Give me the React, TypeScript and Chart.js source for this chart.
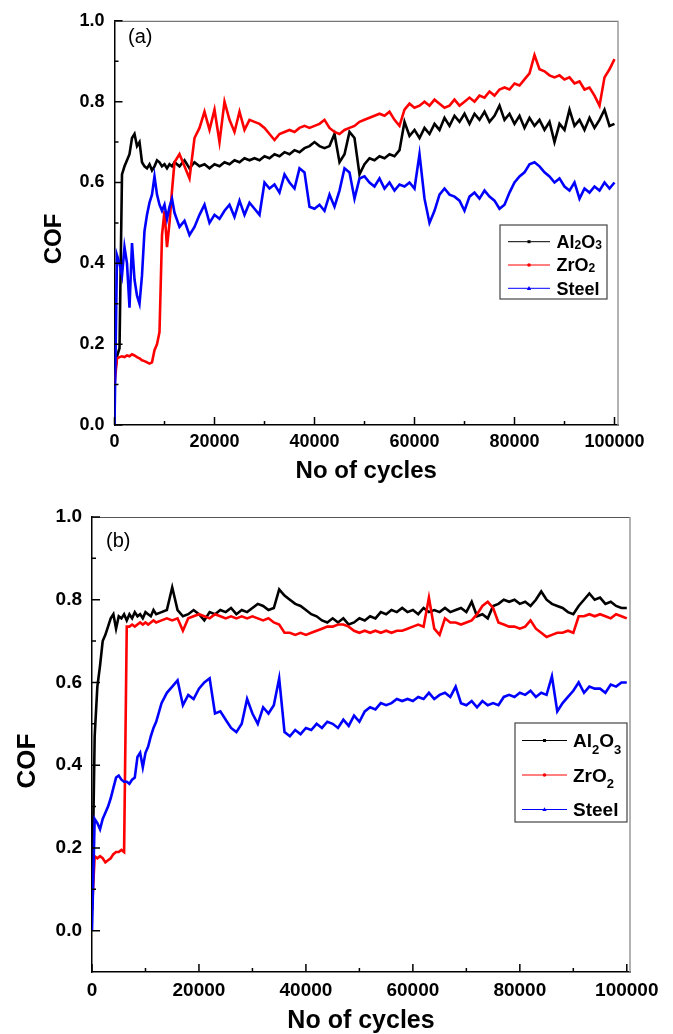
import React, { useEffect, useRef } from "react";
import { Chart, registerables } from "chart.js";

Chart.register(...registerables);

// ---------------- data ----------------
const CYCLES = [
  0, 500, 1000, 1500, 2000, 2500, 3000, 3500, 4000, 4500, 5000, 5500, 6000, 6500, 7000, 7500, 8000, 8500, 9000, 9500, 10000, 10500, 11000, 11500, 12000,
  13000, 14000, 15000, 16000, 17000, 18000, 19000, 20000, 21000, 22000,
  23000, 24000, 25000, 26000, 27000, 28000, 29000, 30000, 31000, 32000,
  33000, 34000, 35000, 36000, 37000, 38000, 39000, 40000, 41000, 42000,
  43000, 44000, 45000, 46000, 47000, 48000, 49000, 50000, 51000, 52000,
  53000, 54000, 55000, 56000, 57000, 58000, 59000, 60000, 61000, 62000,
  63000, 64000, 65000, 66000, 67000, 68000, 69000, 70000, 71000, 72000,
  73000, 74000, 75000, 76000, 77000, 78000, 79000, 80000, 81000, 82000,
  83000, 84000, 85000, 86000, 87000, 88000, 89000, 90000, 91000, 92000,
  93000, 94000, 95000, 96000, 97000, 98000, 99000, 100000,
];

// (a)
const A_AL2O3 = [
  0.12, 0.17, 0.19, 0.62, 0.64, 0.655, 0.67, 0.71, 0.72, 0.69, 0.70, 0.65, 0.64, 0.635, 0.645, 0.63, 0.64, 0.655, 0.65, 0.64, 0.645, 0.635, 0.645, 0.64, 0.65,
  0.64, 0.655, 0.635, 0.65, 0.64, 0.645, 0.635, 0.645, 0.64, 0.65,
  0.645, 0.655, 0.65, 0.66, 0.655, 0.66, 0.655, 0.665, 0.66, 0.67,
  0.665, 0.675, 0.67, 0.68, 0.675, 0.685, 0.69, 0.70, 0.69, 0.685,
  0.69, 0.72, 0.65, 0.67, 0.725, 0.71, 0.62, 0.645, 0.66, 0.655,
  0.665, 0.66, 0.67, 0.665, 0.68, 0.75, 0.715, 0.73, 0.71, 0.735,
  0.72, 0.745, 0.73, 0.76, 0.74, 0.765, 0.75, 0.77, 0.745, 0.77,
  0.755, 0.775, 0.75, 0.765, 0.79, 0.755, 0.77, 0.745, 0.765, 0.735,
  0.76, 0.74, 0.755, 0.73, 0.75, 0.70, 0.745, 0.73, 0.78, 0.74,
  0.755, 0.73, 0.76, 0.735, 0.755, 0.78, 0.74, 0.745,
];
const A_ZRO2 = [
  0.10, 0.165, 0.168, 0.17, 0.168, 0.172, 0.17, 0.175, 0.172, 0.168, 0.165, 0.16, 0.158, 0.155, 0.152, 0.155, 0.185, 0.20, 0.23, 0.47, 0.53, 0.44, 0.50, 0.58, 0.65,
  0.67, 0.64, 0.61, 0.71, 0.735, 0.775, 0.73, 0.78, 0.70, 0.80,
  0.755, 0.725, 0.775, 0.73, 0.755, 0.75, 0.745, 0.735, 0.72, 0.705,
  0.72, 0.725, 0.73, 0.725, 0.735, 0.74, 0.735, 0.74, 0.745, 0.755,
  0.735, 0.725, 0.72, 0.73, 0.735, 0.74, 0.75, 0.755, 0.76, 0.765,
  0.77, 0.765, 0.775, 0.755, 0.74, 0.78, 0.795, 0.785, 0.79, 0.80,
  0.79, 0.805, 0.795, 0.785, 0.79, 0.805, 0.79, 0.80, 0.81, 0.80,
  0.815, 0.81, 0.825, 0.815, 0.83, 0.835, 0.83, 0.845, 0.84, 0.855,
  0.87, 0.915, 0.88, 0.875, 0.865, 0.86, 0.865, 0.855, 0.86, 0.845,
  0.85, 0.83, 0.835, 0.815, 0.79, 0.86, 0.88, 0.905,
];
const A_STEEL = [
  0.0, 0.42, 0.40, 0.37, 0.44, 0.40, 0.29, 0.45, 0.36, 0.32, 0.30, 0.37, 0.48, 0.52, 0.55, 0.57, 0.615, 0.57, 0.545, 0.53, 0.545, 0.51, 0.54, 0.56, 0.525,
  0.49, 0.505, 0.47, 0.49, 0.52, 0.545, 0.50, 0.52, 0.51, 0.53,
  0.545, 0.515, 0.555, 0.52, 0.55, 0.535, 0.52, 0.60, 0.585, 0.595,
  0.575, 0.62, 0.60, 0.585, 0.635, 0.625, 0.54, 0.535, 0.545, 0.53,
  0.57, 0.54, 0.58, 0.635, 0.625, 0.56, 0.61, 0.615, 0.60, 0.59,
  0.61, 0.585, 0.60, 0.58, 0.595, 0.59, 0.60, 0.585, 0.67, 0.56,
  0.50, 0.53, 0.57, 0.585, 0.57, 0.565, 0.555, 0.53, 0.565, 0.575,
  0.56, 0.58, 0.565, 0.555, 0.535, 0.545, 0.575, 0.60, 0.615, 0.625,
  0.645, 0.65, 0.64, 0.625, 0.615, 0.60, 0.61, 0.59, 0.58, 0.60,
  0.56, 0.585, 0.575, 0.59, 0.58, 0.60, 0.585, 0.60,
];

// (b)
const B_AL2O3 = [
  0.05, 0.47, 0.59, 0.64, 0.70, 0.715, 0.735, 0.755, 0.765, 0.73, 0.76, 0.755, 0.765, 0.75, 0.765, 0.755, 0.77, 0.76, 0.765, 0.755, 0.77, 0.765, 0.76, 0.775, 0.765,
  0.77, 0.775, 0.83, 0.775, 0.76, 0.765, 0.775, 0.765, 0.75, 0.77,
  0.765, 0.775, 0.77, 0.78, 0.765, 0.775, 0.77, 0.78, 0.79, 0.785,
  0.775, 0.78, 0.825, 0.81, 0.80, 0.79, 0.785, 0.775, 0.765, 0.76,
  0.75, 0.745, 0.755, 0.745, 0.755, 0.74, 0.745, 0.755, 0.75, 0.76,
  0.755, 0.77, 0.765, 0.775, 0.77, 0.78, 0.77, 0.775, 0.765, 0.78,
  0.77, 0.775, 0.77, 0.78, 0.77, 0.775, 0.78, 0.77, 0.795, 0.76,
  0.765, 0.755, 0.785, 0.79, 0.80, 0.795, 0.80, 0.79, 0.795, 0.785,
  0.80, 0.82, 0.80, 0.79, 0.785, 0.78, 0.77, 0.765, 0.785, 0.80,
  0.815, 0.80, 0.805, 0.79, 0.795, 0.785, 0.78, 0.78,
];
const B_ZRO2 = [
  0.05, 0.18, 0.175, 0.18, 0.175, 0.165, 0.17, 0.175, 0.185, 0.19, 0.19, 0.195, 0.19, 0.735, 0.735, 0.74, 0.735, 0.74, 0.745, 0.74, 0.745, 0.74, 0.745, 0.75, 0.745,
  0.75, 0.755, 0.75, 0.755, 0.725, 0.755, 0.76, 0.765, 0.76, 0.755,
  0.765, 0.76, 0.755, 0.76, 0.755, 0.76, 0.755, 0.76, 0.755, 0.75,
  0.755, 0.745, 0.74, 0.72, 0.72, 0.715, 0.72, 0.715, 0.72, 0.725,
  0.73, 0.735, 0.735, 0.74, 0.74, 0.735, 0.725, 0.72, 0.725, 0.72,
  0.725, 0.72, 0.725, 0.72, 0.725, 0.725, 0.73, 0.735, 0.74, 0.735,
  0.805, 0.73, 0.715, 0.755, 0.745, 0.745, 0.74, 0.745, 0.75, 0.765,
  0.785, 0.795, 0.78, 0.745, 0.74, 0.735, 0.735, 0.73, 0.735, 0.75,
  0.73, 0.72, 0.71, 0.715, 0.72, 0.72, 0.725, 0.72, 0.76, 0.76,
  0.765, 0.76, 0.765, 0.76, 0.755, 0.765, 0.76, 0.755,
];
const B_STEEL = [
  0.0, 0.27, 0.26, 0.245, 0.27, 0.285, 0.30, 0.32, 0.345, 0.37, 0.375, 0.365, 0.36, 0.36, 0.355, 0.365, 0.37, 0.42, 0.43, 0.395, 0.43, 0.445, 0.47, 0.49, 0.505,
  0.55, 0.575, 0.59, 0.605, 0.545, 0.57, 0.56, 0.585, 0.60, 0.61,
  0.525, 0.53, 0.51, 0.49, 0.48, 0.50, 0.56, 0.525, 0.50, 0.54,
  0.525, 0.545, 0.61, 0.48, 0.47, 0.485, 0.475, 0.49, 0.485, 0.50,
  0.49, 0.505, 0.50, 0.49, 0.51, 0.495, 0.52, 0.505, 0.53, 0.54,
  0.535, 0.55, 0.545, 0.55, 0.56, 0.555, 0.56, 0.555, 0.565, 0.56,
  0.575, 0.56, 0.57, 0.575, 0.565, 0.59, 0.55, 0.545, 0.555, 0.54,
  0.555, 0.545, 0.55, 0.545, 0.565, 0.57, 0.565, 0.575, 0.57, 0.58,
  0.565, 0.575, 0.57, 0.615, 0.53, 0.55, 0.565, 0.58, 0.60, 0.575,
  0.59, 0.585, 0.585, 0.575, 0.595, 0.59, 0.60, 0.60,
];

const SERIES_NAMES = ["Al₂O₃", "ZrO₂", "Steel"];
const SERIES_COLORS = ["#000000", "#ff0000", "#0000ff"];
const X_LABEL_TICKS = [0, 20000, 40000, 60000, 80000, 100000];
const X_MINOR_TICKS = [10000, 30000, 50000, 70000, 90000];
const Y_LABEL_TICKS = [0, 0.2, 0.4, 0.6, 0.8, 1.0];
const Y_MINOR_TICKS = [0.1, 0.3, 0.5, 0.7, 0.9];
const X_TITLE = "No of cycles";
const Y_TITLE = "COF";

const SUB_MAP: Record<string, string> = { "₂": "2", "₃": "3" };
const FAMILY = "'Liberation Sans', Arial, Helvetica, sans-serif";

type Panel = {
  tag: string;
  top: number;
  width: number;
  height: number;
  area: { left: number; right: number; top: number; bottom: number };
  xMax: number;
  yMin: number;
  yMax: number;
  tickSize: number;
  labelPadX: number;
  titleSize: number;
  titlePad: number;
  cofSize: number;
  cofX: number;
  cofY: number;
  tagX: number;
  tagY: number;
  tagSize: number;
  legend: {
    x: number; y: number; w: number; h: number;
    rows: number[]; lx1: number; lx2: number; tx: number;
    size: number; subSize: number; subShift: number;
  };
  series: number[][];
};

const PANELS: Panel[] = [
  {
    tag: "(a)",
    top: 0,
    width: 673,
    height: 490,
    area: { left: 114.5, right: 618, top: 18, bottom: 425 },
    xMax: 100700,
    yMin: 0,
    yMax: 1.0,
    tickSize: 18,
    labelPadX: 6,
    titleSize: 24,
    titlePad: 6.5,
    cofSize: 24,
    cofX: 54,
    cofY: 239,
    tagX: 128,
    tagY: 37.5,
    tagSize: 20,
    legend: { x: 500, y: 225, w: 107, h: 74, rows: [241.7, 265, 288.3], lx1: 508, lx2: 550, tx: 556.5, size: 18, subSize: 12, subShift: 1 },
    series: [A_AL2O3, A_ZRO2, A_STEEL],
  },
  {
    tag: "(b)",
    top: 490,
    width: 673,
    height: 544,
    area: { left: 92, right: 630, top: 27, bottom: 482 },
    xMax: 100600,
    yMin: -0.1,
    yMax: 1.0,
    tickSize: 19,
    labelPadX: 7,
    titleSize: 25,
    titlePad: 0.5,
    cofSize: 26,
    cofX: 28,
    cofY: 271,
    tagX: 106,
    tagY: 51,
    tagSize: 20,
    legend: { x: 515, y: 233, w: 112, h: 99, rows: [250.5, 285, 319.5], lx1: 522, lx2: 567, tx: 573, size: 19, subSize: 13, subShift: 6.5 },
    series: [B_AL2O3, B_ZRO2, B_STEEL],
  },
];

function drawRich(ctx: CanvasRenderingContext2D, label: string, x: number, base: number, font: string, subFont: string, subShift: number) {
  let cx = x;
  let buf = "";
  const flush = () => {
    if (!buf) return;
    ctx.font = font;
    ctx.fillText(buf, cx, base);
    cx += ctx.measureText(buf).width;
    buf = "";
  };
  for (const ch of label) {
    const s = SUB_MAP[ch];
    if (s) {
      flush();
      ctx.font = subFont;
      ctx.fillText(s, cx, base + subShift);
      cx += ctx.measureText(s).width;
    } else {
      buf += ch;
    }
  }
  flush();
}

function makeDecor(p: Panel) {
  return {
    id: "decor" + p.tag,
    afterDraw(chart: any) {
      const { ctx, chartArea: a } = chart;
      const xs = chart.scales.x;
      const ys = chart.scales.y;
      ctx.save();
      // top and right frame
      ctx.strokeStyle = "#555";
      ctx.lineWidth = 1;
      ctx.beginPath();
      ctx.moveTo(a.left, a.top + 0.5);
      ctx.lineTo(a.right, a.top + 0.5);
      ctx.stroke();
      ctx.strokeStyle = "#999";
      ctx.lineWidth = 1.5;
      ctx.beginPath();
      ctx.moveTo(a.right, a.top);
      ctx.lineTo(a.right, a.bottom);
      ctx.stroke();

      // inward ticks
      ctx.strokeStyle = "#000";
      ctx.lineWidth = 1.5;
      ctx.beginPath();
      const xt = (v: number, len: number) => {
        const px = xs.getPixelForValue(v);
        ctx.moveTo(px, a.bottom);
        ctx.lineTo(px, a.bottom - len);
      };
      const yt = (v: number, len: number) => {
        const py = ys.getPixelForValue(v);
        ctx.moveTo(a.left, py);
        ctx.lineTo(a.left + len, py);
      };
      X_LABEL_TICKS.forEach((v) => xt(v, 8));
      X_MINOR_TICKS.forEach((v) => xt(v, 4));
      Y_LABEL_TICKS.forEach((v) => yt(v, 8));
      Y_MINOR_TICKS.forEach((v) => yt(v, 4));
      ctx.stroke();

      // y title
      ctx.save();
      ctx.translate(p.cofX, p.cofY);
      ctx.rotate(-Math.PI / 2);
      ctx.fillStyle = "#000";
      ctx.font = `bold ${p.cofSize}px ${FAMILY}`;
      ctx.textAlign = "center";
      ctx.textBaseline = "middle";
      ctx.fillText(Y_TITLE, 0, 0);
      ctx.restore();

      // panel tag
      ctx.fillStyle = "#000";
      ctx.font = `${p.tagSize}px ${FAMILY}`;
      ctx.textAlign = "left";
      ctx.textBaseline = "middle";
      ctx.fillText(p.tag, p.tagX, p.tagY);

      // legend
      const L = p.legend;
      ctx.fillStyle = "#fff";
      ctx.fillRect(L.x, L.y, L.w, L.h);
      ctx.strokeStyle = "#444";
      ctx.lineWidth = 1.2;
      ctx.strokeRect(L.x, L.y, L.w, L.h);
      ctx.textBaseline = "alphabetic";
      chart.data.datasets.forEach((ds: any, i: number) => {
        const ry = L.rows[i];
        ctx.strokeStyle = ds.borderColor;
        ctx.lineWidth = 1;
        ctx.beginPath();
        ctx.moveTo(L.lx1, ry);
        ctx.lineTo(L.lx2, ry);
        ctx.stroke();
        const mx = (L.lx1 + L.lx2) / 2;
        ctx.fillStyle = ds.borderColor;
        ctx.beginPath();
        if (i === 0) {
          ctx.rect(mx - 1.5, ry - 1.5, 3, 3);
        } else if (i === 1) {
          ctx.arc(mx, ry, 1.8, 0, Math.PI * 2);
        } else {
          ctx.moveTo(mx, ry - 2.2);
          ctx.lineTo(mx + 2.2, ry + 1.6);
          ctx.lineTo(mx - 2.2, ry + 1.6);
          ctx.closePath();
        }
        ctx.fill();
        ctx.fillStyle = "#000";
        const base = ry + (0.716 * L.size) / 2;
        drawRich(ctx, ds.label, L.tx, base, `bold ${L.size}px ${FAMILY}`, `bold ${L.subSize}px ${FAMILY}`, L.subShift);
      });
      ctx.restore();
    },
  };
}

function buildChart(canvas: HTMLCanvasElement, p: Panel) {
  const datasets = p.series.map((vals, i) => ({
    label: SERIES_NAMES[i],
    data: CYCLES.map((c, k) => ({ x: c, y: vals[k] })),
    borderColor: SERIES_COLORS[i],
    backgroundColor: SERIES_COLORS[i],
    borderWidth: 2.6,
    borderJoinStyle: "miter",
    pointRadius: 0,
    tension: 0,
    fill: false,
    order: 3 - i,
  }));
  return new Chart(canvas, {
    type: "line",
    data: { datasets },
    options: {
      animation: false,
      responsive: false,
      devicePixelRatio: 1,
      events: [],
      parsing: false,
      layout: {
        padding: { left: 0, top: p.area.top, right: p.width - p.area.right, bottom: 0 },
      },
      plugins: {
        legend: { display: false },
        tooltip: { enabled: false },
      },
      scales: {
        x: {
          type: "linear",
          min: 0,
          max: p.xMax,
          grid: { display: false, drawTicks: false },
          border: { display: true, color: "#000", width: 1.5 },
          afterBuildTicks: (s: any) => {
            s.ticks = X_LABEL_TICKS.map((v) => ({ value: v }));
          },
          afterFit: (s: any) => {
            s.height = p.height - p.area.bottom;
          },
          ticks: {
            autoSkip: false,
            maxRotation: 0,
            padding: p.labelPadX,
            color: "#000",
            font: { family: FAMILY, size: p.tickSize, weight: "bold" },
            callback: (v: any) => String(v),
          },
          title: {
            display: true,
            text: X_TITLE,
            color: "#000",
            font: { family: FAMILY, size: p.titleSize, weight: "bold", lineHeight: 1 },
            padding: { top: 0, bottom: p.titlePad },
          },
        },
        y: {
          type: "linear",
          min: p.yMin,
          max: p.yMax,
          grid: { display: false, drawTicks: false },
          border: { display: true, color: "#000", width: 1.5 },
          afterBuildTicks: (s: any) => {
            s.ticks = Y_LABEL_TICKS.map((v) => ({ value: v }));
          },
          afterFit: (s: any) => {
            s.width = p.area.left;
          },
          ticks: {
            padding: 10,
            color: "#000",
            font: { family: FAMILY, size: p.tickSize, weight: "bold" },
            callback: (v: any) => Number(v).toFixed(1),
          },
        },
      },
    },
    plugins: [makeDecor(p)],
  } as any);
}

function ChartPanel({ p }: { p: Panel }) {
  const ref = useRef<HTMLCanvasElement | null>(null);
  useEffect(() => {
    if (!ref.current) return;
    const chart = buildChart(ref.current, p);
    return () => chart.destroy();
  }, [p]);
  return (
    <canvas
      ref={ref}
      width={p.width}
      height={p.height}
      style={{ position: "absolute", left: 0, top: p.top, width: p.width, height: p.height, display: "block" }}
    />
  );
}

export default function App() {
  return (
    <div style={{ position: "absolute", left: 0, top: 0, width: 673, height: 1034, background: "#fff", overflow: "hidden" }}>
      {PANELS.map((p) => (
        <ChartPanel key={p.tag} p={p} />
      ))}
    </div>
  );
}
